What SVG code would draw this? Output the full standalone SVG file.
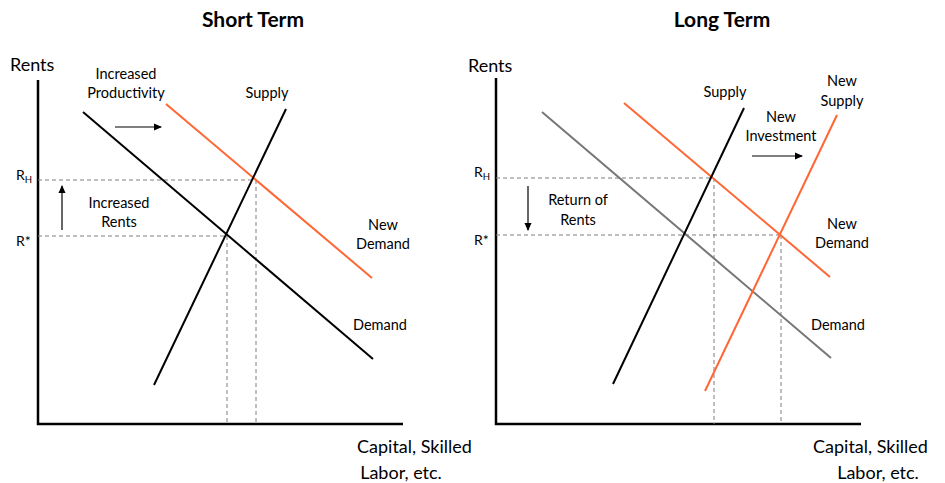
<svg xmlns="http://www.w3.org/2000/svg" width="945" height="483" viewBox="0 0 945 483">
<defs>
<marker id="ah" markerWidth="8" markerHeight="8" refX="7" refY="4" orient="auto" markerUnits="userSpaceOnUse"><path d="M0,0.5 L8,4 L0,7.5 Z" fill="#000"/></marker>
<style>
text{font-family:Lato,"Open Sans","Liberation Sans",sans-serif;fill:#000}
.t{font-size:21px;font-weight:bold;text-anchor:middle}
.ax{font-size:18px}
.lb{font-size:14.5px;text-anchor:middle}
.r{font-size:14px}
.axis{stroke:#000;stroke-width:2.5;fill:none}
.blk{stroke:#000;stroke-width:2;fill:none}
.gry{stroke:#767676;stroke-width:2;fill:none}
.org{stroke:#FF6633;stroke-width:2;fill:none}
.dash{stroke:#7f7f7f;stroke-width:1;stroke-dasharray:4,3;fill:none}
.arr{stroke:#000;stroke-width:1.2;fill:none;marker-end:url(#ah)}
</style>
</defs>
<rect width="945" height="483" fill="#fff"/>

<g id="left-panel">
<text class="t" x="253" y="27">Short Term</text>
<text class="ax" x="10" y="71" font-size="19">Rents</text>
<text class="ax" x="357" y="453">Capital, Skilled</text>
<text class="ax" x="401" y="479" text-anchor="middle">Labor, etc.</text>
<path class="axis" d="M38,80 V424 H403"/>
<text class="r" x="16" y="180">R<tspan font-size="9.5" dy="3">H</tspan></text>
<text class="r" x="16" y="246">R*</text>
</g>

<g id="left-connectors">
<path class="dash" d="M38,180 H255 M256,180 V424 M38,236 H226 M227,236 V424"/>
<path class="blk" d="M83,112 L373,359"/>
<path class="org" d="M166,104 L372,278"/>
<path class="blk" d="M286,109 L154,385"/>
<path class="arr" d="M115,127 H161"/>
<path class="arr" d="M62,230 V186"/>
</g>

<g id="left-labels">
<text class="lb" x="126" y="79">Increased</text>
<text class="lb" x="126" y="98">Productivity</text>
<text class="lb" x="267" y="98">Supply</text>
<text class="lb" x="119" y="208">Increased</text>
<text class="lb" x="119" y="227">Rents</text>
<text class="lb" x="383" y="230">New</text>
<text class="lb" x="383" y="249">Demand</text>
<text class="lb" x="380" y="330">Demand</text>
</g>

<g id="right-panel">
<text class="t" x="722" y="27">Long Term</text>
<text class="ax" x="468" y="72" font-size="19">Rents</text>
<text class="ax" x="813" y="453">Capital, Skilled</text>
<text class="ax" x="878" y="479" text-anchor="middle">Labor, etc.</text>
<path class="axis" d="M496,78 V424 H861"/>
<text class="r" x="474" y="177">R<tspan font-size="9.5" dy="3">H</tspan></text>
<text class="r" x="474" y="245">R*</text>
</g>

<g id="right-connectors">
<path class="dash" d="M496,178 H713 M714,178 V424 M496,235 H780 M781,235 V424"/>
<path class="gry" d="M542,112 L831,358"/>
<path class="org" d="M624,103 L830,277"/>
<path class="blk" d="M744,108 L613,384"/>
<path class="org" d="M837,115 L705,391"/>
<path class="arr" d="M752,156 H802"/>
<path class="arr" d="M528,186 V230"/>
</g>

<g id="right-labels">
<text class="lb" x="725" y="97">Supply</text>
<text class="lb" x="842" y="86">New</text>
<text class="lb" x="842" y="106">Supply</text>
<text class="lb" x="781" y="122">New</text>
<text class="lb" x="781" y="141">Investment</text>
<text class="lb" x="578" y="205">Return of</text>
<text class="lb" x="578" y="225">Rents</text>
<text class="lb" x="842" y="229">New</text>
<text class="lb" x="842" y="248">Demand</text>
<text class="lb" x="838" y="330">Demand</text>
</g>
</svg>
